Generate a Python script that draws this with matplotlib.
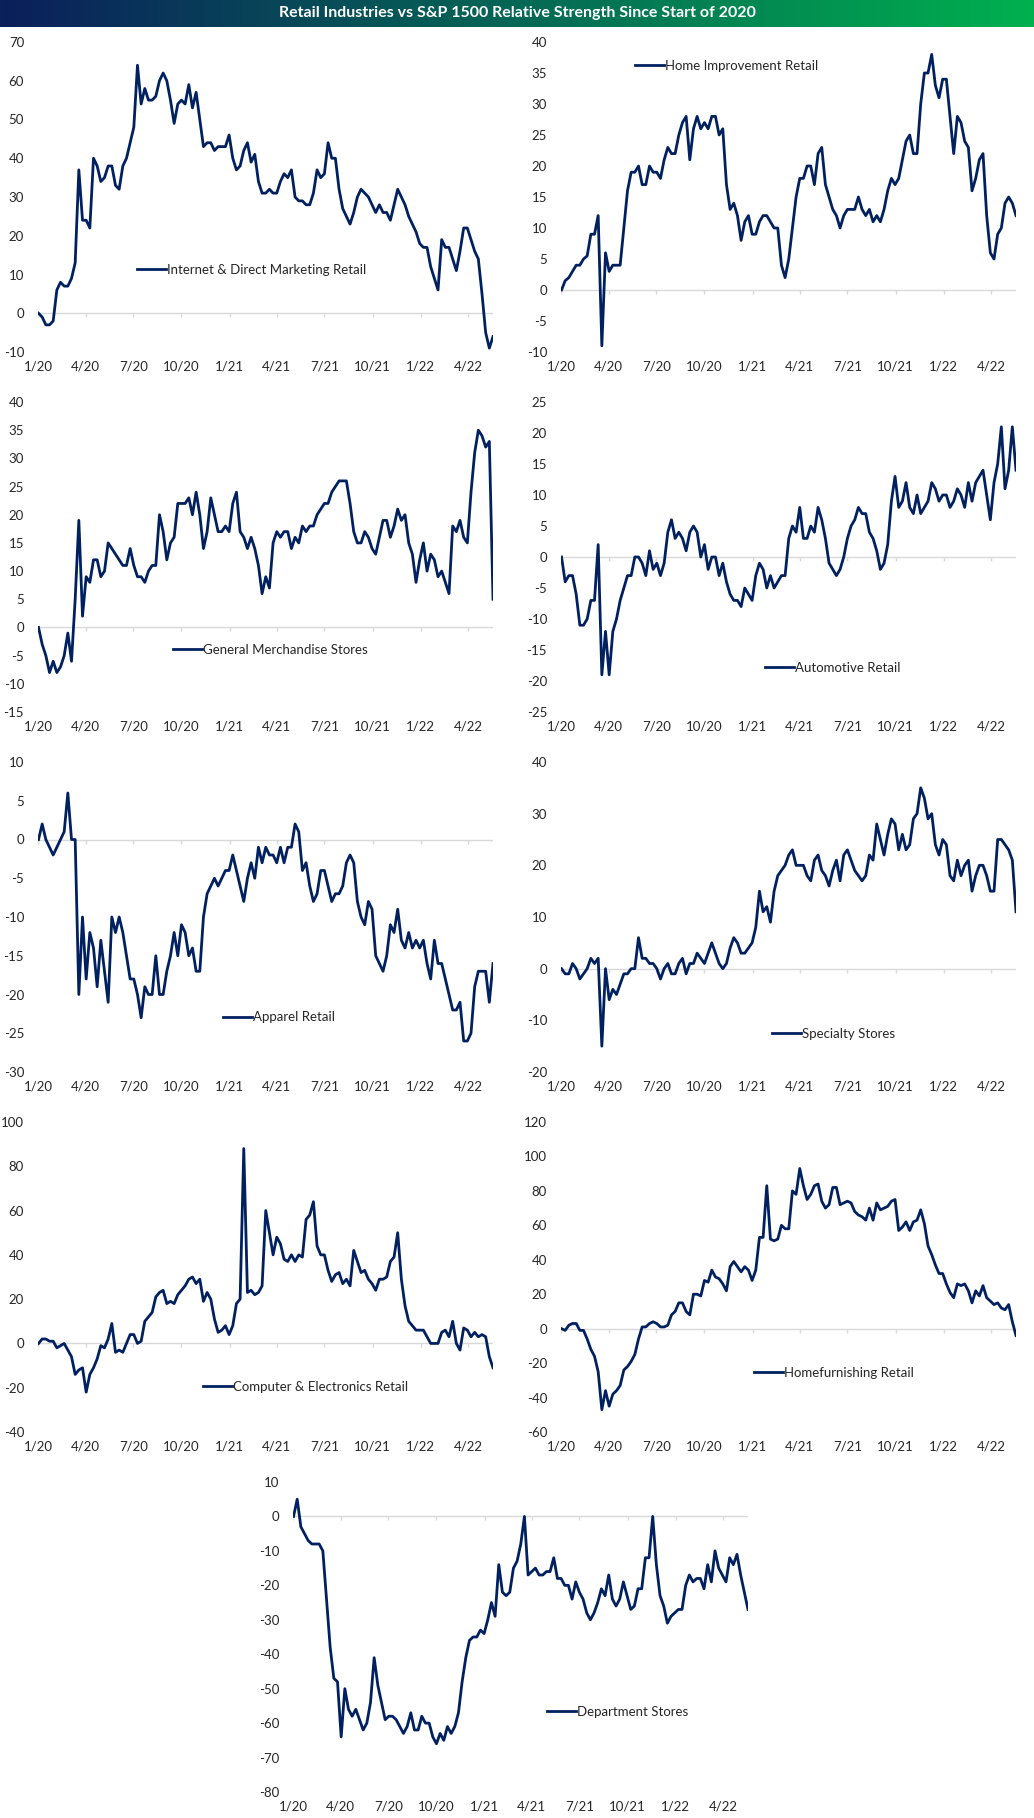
import numpy as np
import pandas as pd
import matplotlib
matplotlib.use('Agg')
import matplotlib.pyplot as plt
from matplotlib.colors import LinearSegmentedColormap

plt.rcParams['font.family'] = ['Lato', 'DejaVu Sans']
plt.rcParams['axes.unicode_minus'] = False

title = "Retail Industries vs S&P 1500 Relative Strength Since Start of 2020"
start_date = '2020-01-02'   # weekly observations
tick_labels = ['1/20', '4/20', '7/20', '10/20', '1/21', '4/21', '7/21', '10/21', '1/22', '4/22']

internet = [0, -1, -3, -3, -2, 6, 8, 7, 7, 9,
            13, 37, 24, 24, 22, 40, 38, 34, 35, 38,
            38, 33, 32, 38, 40, 44, 48, 64, 54, 58,
            55, 55, 56, 60, 62, 60, 55, 49, 54, 55,
            54, 59, 53, 57, 50, 43, 44, 44, 42, 43,
            43, 43, 46, 40, 37, 38, 42, 44, 39, 41,
            34, 31, 31, 32, 31, 31, 34, 36, 35, 37,
            30, 29, 29, 28, 28, 31, 37, 35, 36, 44,
            40, 40, 32, 27, 25, 23, 26, 30, 32, 31,
            30, 28, 26, 28, 26, 26, 24, 28, 32, 30,
            28, 25, 23, 21, 18, 17, 17, 12, 9, 6,
            19, 17, 17, 14, 11, 16, 22, 22, 19, 16,
            14, 5, -5, -9, -6]

home_improvement = [0, 1.5, 2, 3, 4, 4, 5, 5.5, 9, 9,
                    12, -9, 6, 3, 4, 4, 4, 10, 16, 19,
                    19, 20, 17, 17, 20, 19, 19, 18, 21, 23,
                    22, 22, 25, 27, 28, 21, 26, 28, 26, 27,
                    26, 28, 28, 25, 26, 17, 13, 14, 12, 8,
                    11, 12, 9, 9, 11, 12, 12, 11, 10, 10,
                    4, 2, 5, 10, 15, 18, 18, 20, 20, 17,
                    22, 23, 17, 15, 13, 12, 10, 12, 13, 13,
                    13, 15, 13, 12, 13, 11, 12, 11, 13, 16,
                    18, 17, 18, 21, 24, 25, 22, 22, 30, 35,
                    35, 38, 33, 31, 34, 34, 28, 22, 28, 27,
                    24, 23, 16, 18, 21, 22, 12, 6, 5, 9,
                    10, 14, 15, 14, 12]

general_merch = [0, -3, -5, -8, -6, -8, -7, -5, -1, -6,
                 5, 19, 2, 9, 8, 12, 12, 9, 10, 15,
                 14, 13, 12, 11, 11, 14, 11, 9, 9, 8,
                 10, 11, 11, 20, 17, 12, 15, 16, 22, 22,
                 22, 23, 20, 24, 20, 14, 17, 23, 20, 17,
                 17, 18, 17, 22, 24, 17, 16, 14, 16, 14,
                 11, 6, 9, 7, 15, 17, 16, 17, 17, 14,
                 16, 15, 18, 17, 18, 18, 20, 21, 22, 22,
                 24, 25, 26, 26, 26, 22, 17, 15, 15, 17,
                 16, 14, 13, 16, 19, 19, 16, 18, 21, 19,
                 20, 15, 13, 8, 12, 15, 10, 13, 12, 9,
                 10, 8, 6, 18, 17, 19, 16, 15, 24, 31,
                 35, 34, 32, 33, 5]

automotive = [0, -4, -3, -3, -6, -11, -11, -10, -7, -7,
              2, -19, -12, -19, -12, -10, -7, -5, -3, -3,
              0, 0, -1, -3, 1, -2, -1, -3, -1, 4,
              6, 3, 4, 3, 1, 4, 5, 4, 0, 2,
              -2, 0, 0, -3, -1, -4, -6, -7, -7, -8,
              -5, -6, -7, -3, -1, -2, -5, -3, -5, -4,
              -3, -3, 3, 5, 4, 8, 3, 3, 5, 4,
              8, 6, 3, -1, -2, -3, -2, 0, 3, 5,
              6, 8, 7, 7, 4, 3, 1, -2, -1, 2,
              9, 13, 8, 9, 12, 8, 7, 10, 7, 8,
              9, 12, 11, 9, 10, 10, 8, 9, 11, 10,
              8, 12, 9, 12, 13, 14, 10, 6, 12, 15,
              21, 11, 14, 21, 14]

apparel = [0, 2, 0, -1, -2, -1, 0, 1, 6, 0,
           0, -20, -10, -18, -12, -14, -19, -13, -17, -21,
           -10, -12, -10, -12, -15, -18, -18, -20, -23, -19,
           -20, -20, -15, -20, -20, -17, -15, -12, -15, -11,
           -12, -15, -14, -17, -17, -10, -7, -6, -5, -6,
           -5, -4, -4, -2, -4, -6, -8, -5, -3, -5,
           -1, -3, -1, -2, -2, -3, -1, -3, -1, -1,
           2, 1, -4, -3, -6, -8, -7, -4, -4, -6,
           -8, -7, -7, -6, -3, -2, -3, -8, -10, -11,
           -8, -9, -15, -16, -17, -15, -11, -12, -9, -13,
           -14, -12, -14, -13, -14, -13, -16, -18, -13, -16,
           -16, -18, -20, -22, -22, -21, -26, -26, -25, -19,
           -17, -17, -17, -21, -16]

specialty = [0, -1, -1, 1, 0, -2, -1, 0, 2, 1,
             2, -15, 0, -6, -4, -5, -3, -1, -1, 0,
             0, 6, 2, 2, 1, 1, 0, -2, 0, 1,
             -1, -1, 1, 2, -1, 1, 1, 3, 2, 1,
             3, 5, 3, 1, 0, 1, 4, 6, 5, 3,
             3, 4, 5, 8, 15, 11, 12, 9, 15, 18,
             19, 20, 22, 23, 20, 20, 20, 18, 17, 21,
             22, 19, 18, 16, 19, 21, 17, 22, 23, 21,
             19, 18, 17, 18, 22, 21, 28, 25, 22, 26,
             29, 28, 23, 26, 23, 24, 29, 30, 35, 33,
             29, 30, 24, 22, 25, 24, 18, 17, 21, 18,
             20, 21, 15, 18, 20, 20, 18, 15, 15, 25,
             25, 24, 23, 21, 11]

computer = [0, 2, 2, 1, 1, -2, -1, 0, -3, -6,
            -14, -12, -11, -22, -14, -11, -7, -1, -2, 2,
            9, -4, -3, -4, 0, 4, 4, 0, 1, 10,
            12, 14, 21, 23, 24, 18, 19, 18, 22, 24,
            26, 29, 30, 27, 29, 19, 23, 20, 11, 5,
            6, 8, 4, 8, 18, 20, 88, 23, 24, 22,
            23, 26, 60, 50, 40, 48, 45, 38, 37, 40,
            37, 40, 39, 56, 58, 64, 44, 40, 40, 33,
            28, 31, 32, 27, 29, 26, 42, 37, 32, 33,
            29, 27, 24, 29, 29, 30, 37, 39, 50, 29,
            17, 10, 8, 6, 6, 6, 3, 0, 0, 0,
            5, 6, 3, 10, 0, -3, 7, 6, 3, 5,
            3, 4, 3, -6, -11]

homefurnishing = [0, -1, 2, 3, 3, -1, -1, -6, -12, -16,
                  -25, -47, -36, -45, -38, -36, -33, -24, -22, -19,
                  -15, -6, 1, 1, 3, 4, 3, 1, 1, 2,
                  8, 10, 15, 15, 10, 8, 20, 20, 19, 28,
                  27, 34, 30, 29, 26, 22, 36, 39, 36, 33,
                  36, 34, 28, 34, 53, 53, 83, 52, 51, 52,
                  60, 58, 58, 80, 78, 93, 83, 75, 78, 83,
                  84, 74, 70, 72, 82, 82, 72, 73, 74, 73,
                  68, 66, 65, 63, 70, 63, 73, 69, 70, 71,
                  74, 75, 57, 59, 62, 57, 62, 63, 69, 61,
                  48, 43, 37, 32, 32, 26, 21, 18, 26, 25,
                  26, 22, 15, 22, 19, 25, 18, 16, 14, 15,
                  12, 11, 14, 4, -4]

department = [0, 5, -3, -5, -7, -8, -8, -8, -10, -24,
              -38, -47, -48, -64, -50, -56, -58, -56, -59, -62,
              -60, -54, -41, -49, -54, -59, -58, -58, -59, -61,
              -63, -61, -57, -62, -62, -58, -60, -60, -64, -66,
              -63, -65, -61, -63, -61, -57, -48, -41, -36, -35,
              -35, -33, -34, -30, -25, -29, -14, -22, -23, -22,
              -15, -13, -8, 0, -17, -16, -15, -17, -17, -16,
              -16, -12, -18, -18, -20, -20, -24, -19, -22, -24,
              -28, -30, -28, -25, -21, -23, -17, -24, -26, -24,
              -19, -23, -27, -26, -21, -21, -12, -12, 0, -14,
              -23, -26, -31, -29, -28, -27, -27, -20, -17, -19,
              -18, -18, -21, -14, -19, -10, -15, -17, -19, -12,
              -14, -11, -17, -22, -27]

# ---------------- layout / style ----------------
FIG_W, FIG_H = 1034, 1818
W, H = 455, 310
LEFT_X, RIGHT_X, MID_X = 38, 561, 293
ROW_TOPS = [42, 402, 762, 1122, 1482]
LINE_COLOR = '#002060'
GRID_COLOR = '#d9d9d9'
TEXT_COLOR = '#262626'


def rect(x, top):
    return [x / FIG_W, 1 - (top + H) / FIG_H, W / FIG_W, H / FIG_H]


panels = [
    ("Internet & Direct Marketing Retail", internet, (-10, 70, 10), (LEFT_X, ROW_TOPS[0]), (0.218, 0.265)),
    ("Home Improvement Retail", home_improvement, (-10, 40, 5), (RIGHT_X, ROW_TOPS[0]), (0.163, 0.923)),
    ("General Merchandise Stores", general_merch, (-15, 40, 5), (LEFT_X, ROW_TOPS[1]), (0.297, 0.200)),
    ("Automotive Retail", automotive, (-25, 25, 5), (RIGHT_X, ROW_TOPS[1]), (0.448, 0.142)),
    ("Apparel Retail", apparel, (-30, 10, 5), (LEFT_X, ROW_TOPS[2]), (0.407, 0.177)),
    ("Specialty Stores", specialty, (-20, 40, 10), (RIGHT_X, ROW_TOPS[2]), (0.464, 0.123)),
    ("Computer & Electronics Retail", computer, (-40, 100, 20), (LEFT_X, ROW_TOPS[3]), (0.363, 0.145)),
    ("Homefurnishing Retail", homefurnishing, (-60, 120, 20), (RIGHT_X, ROW_TOPS[3]), (0.424, 0.190)),
    ("Department Stores", department, (-80, 10, 10), (MID_X, ROW_TOPS[4]), (0.558, 0.258)),
]

fig = plt.figure(figsize=(FIG_W / 100, FIG_H / 100), dpi=100)
fig.patch.set_facecolor('white')

qdates = pd.date_range('2020-01-01', periods=len(tick_labels), freq='QS')

for name, vals, (lo, hi, step), (px, top), (lx, ly) in panels:
    ax = fig.add_axes(rect(px, top))
    dates = pd.date_range(start_date, periods=len(vals), freq='7D')
    ax.axhline(0, color=GRID_COLOR, lw=1.0, zorder=1)
    ax.plot(qdates, np.zeros(len(qdates)), ls='none', marker=3, ms=3,
            mew=1.0, color=GRID_COLOR, zorder=1)
    line, = ax.plot(dates, vals, color=LINE_COLOR, lw=2.0, zorder=3,
                    solid_joinstyle='round')
    ax.set_xlim(pd.Timestamp('2020-01-01'), dates[-1])
    ax.set_ylim(lo, hi)
    ax.set_yticks(np.arange(lo, hi + step, step))
    ax.set_xticks(qdates)
    ax.set_xticklabels(tick_labels)
    for s in ax.spines.values():
        s.set_visible(False)
    ax.tick_params(length=0, labelsize=9.5, colors=TEXT_COLOR)
    ax.tick_params(axis='y', pad=10)
    ax.tick_params(axis='x', pad=6)
    ax.patch.set_alpha(0)
    ax.legend([line], [name], loc='center left', bbox_to_anchor=(lx, ly),
              frameon=False, fontsize=9.5, handlelength=2.2, handletextpad=0.05,
              borderpad=0, borderaxespad=0, labelcolor=TEXT_COLOR)

# title bar with gradient
tax = fig.add_axes([0, 1 - 27 / FIG_H, 1, 27 / FIG_H])
cmap = LinearSegmentedColormap.from_list('bar', ['#0b1f5b', '#00b04f'])
tax.imshow(np.linspace(0, 1, 256)[None, :], aspect='auto', cmap=cmap,
           extent=[0, 1, 0, 1])
tax.set_axis_off()
tax.text(0.5, 0.5, title, ha='center', va='center', color='white',
         fontsize=11.5, fontweight='bold', transform=tax.transAxes)

fig.savefig('out.png', dpi=100, facecolor='white')
